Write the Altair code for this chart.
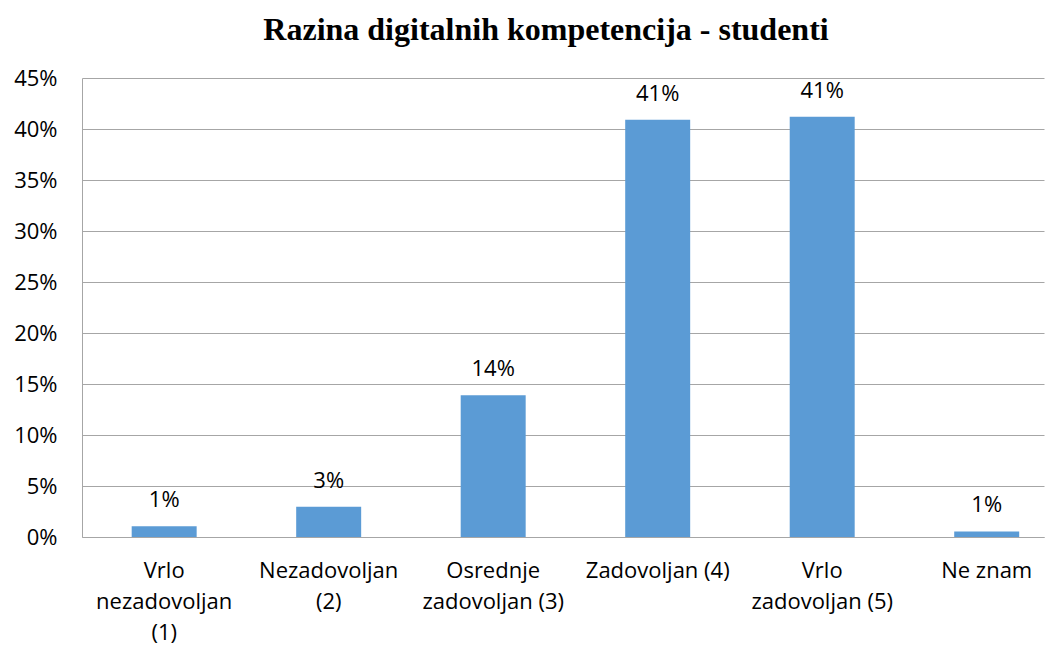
import altair as alt
import pandas as pd

categories = ["Vrlo|nezadovoljan|(1)", "Nezadovoljan|(2)", "Osrednje|zadovoljan (3)",
              "Zadovoljan (4)", "Vrlo|zadovoljan (5)", "Ne znam"]
values = [0.0106, 0.0296, 0.139, 0.409, 0.412, 0.0054]
labels = ["1%", "3%", "14%", "41%", "41%", "1%"]
y_ticks = [0, 0.05, 0.10, 0.15, 0.20, 0.25, 0.30, 0.35, 0.40, 0.45]

df = pd.DataFrame({"cat": categories, "val": values, "lab": labels})

FONT = "Open Sans"
GRAY = "#a6a6a6"
FS = 22

x = alt.X("cat:N", sort=categories, title=None,
          scale=alt.Scale(paddingInner=0.605, paddingOuter=0.2264, align=0.667, round=False),
          axis=alt.Axis(labelAngle=0, ticks=False, tickSize=0, domainColor=GRAY,
                        labelPadding=23, labelLineHeight=31, labelFontSize=FS,
                        labelFont=FONT, labelColor="black", labelLimit=300,
                        labelExpr="split(datum.value, '|')"))
y = alt.Y("val:Q", title=None,
          scale=alt.Scale(domain=[0, 0.45], nice=False),
          axis=alt.Axis(values=y_ticks, format=".0%", grid=True, gridColor=GRAY,
                        domainColor=GRAY, ticks=False, tickSize=0, labelPadding=25,
                        labelFontSize=FS, labelFont=FONT, labelColor="black"))

bars = alt.Chart(df).mark_bar(color="#5B9BD5").encode(x=x, y=y)
text = alt.Chart(df).mark_text(dy=-19, baseline="alphabetic", fontSize=FS,
                                font=FONT, color="black").encode(x=x, y=y, text="lab:N")

chart = (bars + text).properties(
    width=962, height=459,
    title=alt.TitleParams("Razina digitalnih kompetencija - studenti",
                          font="Liberation Serif", fontSize=32, fontWeight="bold",
                          color="black", anchor="middle", dx=-17, offset=20),
    autosize=alt.AutoSizeParams(type="none"),
    padding={"left": 74, "top": 70, "right": 5, "bottom": 120},
).configure_view(stroke=None)

chart.save("out.html", embed_options={"renderer": "svg", "actions": False})
